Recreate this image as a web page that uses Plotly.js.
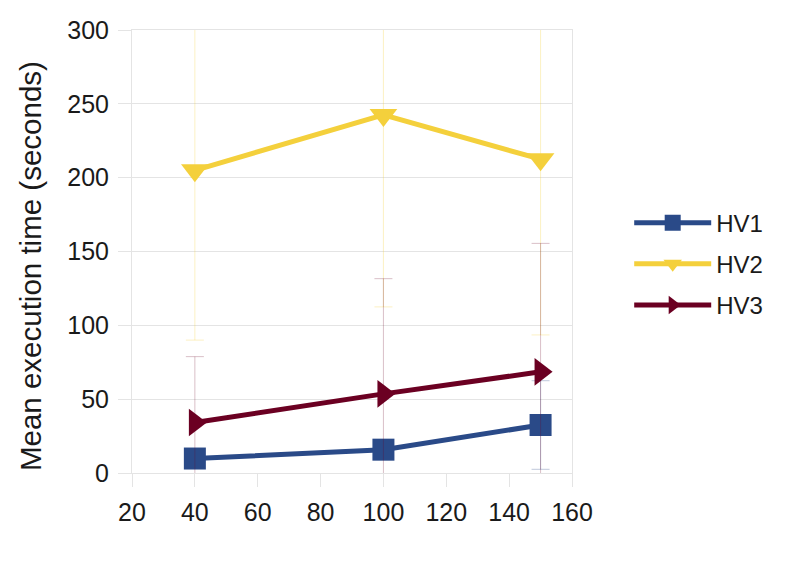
<!DOCTYPE html>
<html>
<head>
<meta charset="utf-8">
<script src="https://cdn.plot.ly/plotly-3.0.1.min.js"></script>
<style>html,body{margin:0;padding:0;background:#fff;}#chart{width:801px;height:578px;}</style>
</head>
<body>
<div id="chart"></div>
<script>
// Data
var xValues = [40, 100, 150];
var hv1 = [9.8, 15.8, 32.5];
var hv1Err = [4, 5, 30];
var hv2 = [205, 242.5, 212.5];
var hv2Err = [115, 130, 119];
var hv3 = [34.2, 53.6, 68.5];
var hv3Err = [44.6, 78, 87];
var seriesNames = ['HV1', 'HV2', 'HV3'];
var xTicks = [20, 40, 60, 80, 100, 120, 140, 160];
var yTicks = [0, 50, 100, 150, 200, 250, 300];
var yTitle = 'Mean execution time (seconds)';

var font = 'Liberation Sans, Arial, sans-serif';
var gridColor = '#e4e4e4';

function trace(name, y, err, color, errColor, symbol, size, group) {
  return {
    type: 'scatter', mode: 'lines+markers', name: name, x: xValues, y: y,
    legendgroup: group,
    line: {color: color, width: 5},
    marker: {color: color, symbol: symbol, size: size},
    error_y: {type: 'data', array: err, visible: true, color: errColor, thickness: 1, width: 9}
  };
}

var data = [
  trace(seriesNames[0], hv1, hv1Err, '#2a4a88', 'rgba(42,74,136,0.3)', 'square', 22, 'g1'),
  trace(seriesNames[1], hv2, hv2Err, '#f4d03c', 'rgba(244,208,60,0.3)', 'triangle-down', 24, 'g2'),
  trace(seriesNames[2], hv3, hv3Err, '#6b0022', 'rgba(107,0,34,0.25)', 'triangle-right', 24, 'g3')
];

var layout = {
  width: 801, height: 578,
  margin: {l: 132, r: 229, t: 30, b: 105},
  paper_bgcolor: '#ffffff', plot_bgcolor: '#ffffff',
  font: {family: font, color: '#1a1a1a'},
  showlegend: true,
  legend: {
    x: 1.13, xanchor: 'left', y: 0.615, yanchor: 'top',
    font: {family: font, size: 24, color: '#1a1a1a'},
    itemwidth: 77, tracegroupgap: 7, bgcolor: 'rgba(0,0,0,0)'
  },
  xaxis: {
    range: [20, 160], tickvals: xTicks, ticktext: xTicks.map(String),
    showgrid: false, zeroline: false,
    showline: true, mirror: true, linecolor: gridColor, linewidth: 1,
    ticks: 'outside', ticklen: 13, tickcolor: gridColor, tickwidth: 1,
    ticklabelstandoff: 4,
    tickfont: {family: font, size: 25, color: '#1a1a1a'}
  },
  yaxis: {
    range: [0, 300], tickvals: yTicks, ticktext: yTicks.map(String),
    showgrid: true, gridcolor: gridColor, gridwidth: 1, zeroline: false,
    showline: true, mirror: true, linecolor: gridColor, linewidth: 1,
    ticks: 'outside', ticklen: 13, tickcolor: gridColor, tickwidth: 1,
    ticklabelstandoff: 4,
    tickfont: {family: font, size: 25, color: '#1a1a1a'}
  },
  annotations: [{
    text: yTitle, textangle: -90, showarrow: false,
    xref: 'paper', yref: 'paper', x: -0.232, y: 0.467,
    xanchor: 'center', yanchor: 'middle',
    font: {family: font, size: 29.5, color: '#1a1a1a'}
  }]
};

Plotly.newPlot('chart', data, layout, {displayModeBar: false, staticPlot: true});
</script>
</body>
</html>
